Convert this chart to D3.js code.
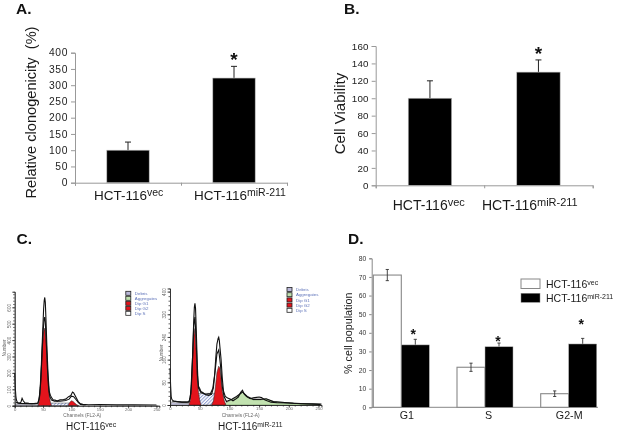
<!DOCTYPE html>
<html><head><meta charset="utf-8">
<script src="https://cdn.jsdelivr.net/npm/d3@7"></script>
<style>html,body{margin:0;padding:0;background:#fff}svg{display:block;filter:blur(.45px)}text{font-family:"Liberation Sans",Arial,sans-serif}</style>
</head><body><svg id="c" width="617" height="434"></svg>
<script>
// ---- data ----
const labelsAB = ["vec","miR-211"];
const aValues = [100,322], aErrors = [25,36];
const aTicks = [0,50,100,150,200,250,300,350,400];
const bValues = [100,130], bErrors = [20,14];
const bTicks = [0,20,40,60,80,100,120,140,160];
const dCats = ["G1","S","G2-M"];
const dVec = [71,21.5,7.3], dVecErr = [3,2.2,1.5];
const dMir = [33.5,32.5,34], dMirErr = [3,2,3];
const dTicks = [0,10,20,30,40,50,60,70,80];
const dStarGap = [5,3.5,10];
const legendNames = ["Debris","Aggregates","Dip G1","Dip G2","Dip S"];
const legendColors = ["#b9b7d8","#bfe0ae","#e3141c","#e3141c","#ffffff"];

const vecDataX = [0,1,2,3,5,8,11,13,15,18,25,35,41,43,45,47,49,51,52,53,54,55,57,59,61,63,65,68,71,75,80,86,90,95,99,102,104,106,109,112,115,120,130,150,180,210,250];
const vecDataY = [200,110,60,35,18,14,22,45,30,18,14,12,15,40,110,250,420,590,640,660,630,540,340,180,85,62,50,35,35,28,36,38,40,55,62,83,78,65,45,25,14,8,6,7,5,5,4];
const vecFitX = [2,10,30,41,44,46,48,50,52,53,54,56,58,60,62,65,70,80,90,96,100,104,108,112,116,125];
const vecFitY = [20,14,12,16,60,150,300,450,530,540,510,370,210,100,55,34,28,28,32,40,58,55,38,20,8,4];
const vecG1X = [41,43,45,47,49,51,53,55,57,59,61,63,65];
const vecG1Y = [0,20,90,220,360,450,473,410,270,140,60,20,0];
const vecG2X = [94,97,100,103,106,109,113];
const vecG2Y = [0,20,30,26,16,7,0];
const vecSX = [46,52,60,80,95,103,110];
const vecSY = [0,12,16,16,16,10,0];
const vecDebrisX = [2,20,44];
const vecDebrisY = [9,8,6];

const mirDataX = [0,1,2,3,6,12,20,28,32,34,36,38,40,41,42,43,44,45,46,47,48,50,52,55,60,65,70,73,75,77,79,81,82,83,84,86,88,90,93,97,102,106,110,115,119,122,125,129,135,140,146,150,154,160,170,180,200,220,240,255];
const mirDataY = [130,70,30,20,14,12,10,10,12,25,70,170,300,345,359,340,280,210,140,90,66,58,48,44,36,34,38,60,100,165,215,235,239,228,205,160,95,50,30,25,20,15,20,28,45,52,38,30,22,25,27,28,26,18,10,8,7,5,4,3];
const mirFitX = [3,20,32,35,38,40,42,44,46,48,52,60,68,72,76,79,82,85,88,91,95,104,112,122,130,140,152,162,174,208,253];
const mirFitY = [14,10,10,40,170,280,310,230,110,60,44,38,40,58,120,180,194,140,65,30,12,20,30,46,30,20,20,22,12,6,2];
const mirG1X = [32,34,36,38,40,42,44,46,48,50,52];
const mirG1Y = [0,15,60,155,240,270,190,90,45,18,0];
const mirG2X = [70,73,76,79,82,84,86,88,91,94];
const mirG2Y = [0,14,55,115,137,130,90,48,18,0];
const mirSX = [39,43,48,60,76,80,85,90];
const mirSY = [0,30,41,41,41,35,16,0];
const mirGreenX = [91,95,104,112,122,130,140,152,162,174,208,253];
const mirGreenY = [0,9,18,27,44,29,18,18,21,12,6,2];
const mirDebrisX = [2,15,33];
const mirDebrisY = [9,7,5];

const svg = d3.select("#c");
const defs = svg.append("defs");
const pat = defs.append("pattern").attr("id","hatch").attr("width",2.4).attr("height",2.4)
  .attr("patternUnits","userSpaceOnUse").attr("patternTransform","rotate(45)");
pat.append("rect").attr("width",2.4).attr("height",2.4).attr("fill","#fff");
pat.append("rect").attr("width",1).attr("height",2.4).attr("fill","#8d9bd0");

function panelLetter(t,x,y){svg.append("text").attr("x",x).attr("y",y).attr("font-size",15.5).attr("font-weight","bold").attr("fill","#111").text(t);}
function hct(x,y,sup,size,supSize,rise){
  const t=svg.append("text").attr("x",x).attr("y",y).attr("font-size",size).attr("fill","#1a1a1a");
  t.append("tspan").text("HCT-116");
  t.append("tspan").attr("dy",-rise).attr("font-size",supSize).text(sup);
}
function rotLabel(t,x,y,size){svg.append("text").attr("transform",`translate(${x},${y}) rotate(-90)`).attr("text-anchor","middle").attr("font-size",size).attr("fill","#1a1a1a").attr("xml:space","preserve").style("white-space","pre").text(t);}
function star(x,y,size){svg.append("text").attr("x",x).attr("y",y).attr("text-anchor","middle").attr("font-size",size).attr("font-weight","bold").attr("fill","#111").text("*");}

function simpleBars(o){
  const g=svg.append("g");
  const x=d3.scaleBand().domain(labelsAB).range([o.x0,o.x1]).paddingInner(o.pad).paddingOuter(o.pad/2);
  const y=d3.scaleLinear().domain([0,o.max]).range([o.y0,o.y1]);
  const ya=g.append("g").attr("transform",`translate(${o.x0},0)`).call(d3.axisLeft(y).tickValues(o.ticks).tickSize(4).tickPadding(3));
  const xa=g.append("g").attr("transform",`translate(0,${o.y0})`).call(d3.axisBottom(d3.scalePoint().domain([0,1,2]).range([o.x0,o.x1])).tickSize(3).tickFormat(""));
  [ya,xa].forEach(a=>{a.selectAll("path,line").attr("stroke","#999").attr("stroke-width",1);});
  ya.selectAll("text").attr("font-size",o.tick).attr("font-family","Liberation Sans").attr("fill","#222").style("letter-spacing",o.ls+"px");
  g.selectAll(".err").data(labelsAB).enter().append("path").attr("fill","none").attr("stroke","#222").attr("stroke-width",1)
    .attr("d",(d,i)=>{const c=x(d)+x.bandwidth()/2,t=y(o.v[i]+o.e[i]);return `M${c},${y(o.v[i])}V${t}M${c-3},${t}H${c+3}`;});
  g.selectAll(".bar").data(labelsAB).enter().append("rect").attr("x",d=>x(d)).attr("width",x.bandwidth())
    .attr("y",(d,i)=>y(o.v[i])).attr("height",(d,i)=>o.y0-y(o.v[i])).attr("fill","#000").attr("stroke","#bbb").attr("stroke-width",.6);
  return {x,y};
}
// Panel A
panelLetter("A.",16,14);
const A=simpleBars({x0:75,x1:287,y0:182.7,y1:52.7,max:400,pad:.6,ticks:aTicks,v:aValues,e:aErrors,tick:10.3,ls:.6});
rotLabel("Relative clonogenicity  (%)",36,112.5,14.6);
star(A.x("miR-211")+A.x.bandwidth()/2,A.y(aValues[1]+aErrors[1]),19);
hct(94,200,"vec",13.5,10.5,4);
hct(194,200,"miR-211",13.5,10.5,4);
// Panel B
panelLetter("B.",344,14);
const B=simpleBars({x0:375.7,x1:592.7,y0:185.3,y1:46,max:160,pad:.6,ticks:bTicks,v:bValues,e:bErrors,tick:9.8,ls:.2});
rotLabel("Cell Viability",345,113.5,15);
star(B.x("miR-211")+B.x.bandwidth()/2,B.y(bValues[1]+bErrors[1]),19);
hct(392.7,210,"vec",14,11,4);
hct(482,210,"miR-211",14,11,4);

// Panel C
panelLetter("C.",16.5,244);panelLetter("D.",348,244);
function hist(o){
  const g=svg.append("g");
  const x=d3.scaleLinear().domain([0,255]).range([o.x0,o.x0+255*o.kx]);
  const y=d3.scaleLinear().domain([0,o.ymax]).range([o.y0,o.y0-o.ymax*o.ky]);
  const area=(xs,ys,fill,st)=>g.append("path").datum(xs.map((d,i)=>[d,ys[i]]))
     .attr("d",d3.area().x(d=>x(d[0])).y0(o.y0).y1(d=>y(d[1]))).attr("fill",fill).attr("stroke",st||"#222").attr("stroke-width",.5);
  area(o.debris[0],o.debris[1],"#c4c2dd","#666");
  if(o.green) area(o.green[0],o.green[1],"#c2e2b0","#5a7a50");
  area(o.s[0],o.s[1],"url(#hatch)","#444");
  area(o.g1[0],o.g1[1],"#e3141c");
  area(o.g2[0],o.g2[1],"#e3141c");
  const ln=d3.line().x(d=>x(d[0])).y(d=>y(d[1]));
  g.append("path").datum(o.fit[0].map((d,i)=>[d,o.fit[1][i]])).attr("d",ln).attr("fill","none").attr("stroke","#111").attr("stroke-width",1.1);
  g.append("path").datum(o.data[0].map((d,i)=>[d,o.data[1][i]])).attr("d",ln).attr("fill","none").attr("stroke","#111").attr("stroke-width",1.1);
  const ya=g.append("g").attr("transform",`translate(${o.x0},0)`).call(d3.axisLeft(y).tickValues(o.yt).tickSize(2.5).tickPadding(1));
  const ym=g.append("g").attr("transform",`translate(${o.x0},0)`).call(d3.axisLeft(y).tickValues(o.ym).tickSize(1.5).tickFormat(""));
  const xa=g.append("g").attr("transform",`translate(0,${o.y0})`).call(d3.axisBottom(x).tickValues(o.xt).tickSize(2.5).tickPadding(0));
  const xm=g.append("g").attr("transform",`translate(0,${o.y0})`).call(d3.axisBottom(x).tickValues(o.xm).tickSize(1.5).tickFormat(""));
  [ya,ym,xa,xm].forEach(a=>a.selectAll("path,line").attr("stroke","#222").attr("stroke-width",.7));
  ya.selectAll("text").attr("transform","rotate(-90)").attr("x",0).attr("y",-4).attr("dy",0).attr("text-anchor","middle").attr("font-size",4.6).attr("font-family","Liberation Sans").attr("fill","#666");
  xa.selectAll("text").attr("font-size",4.2).attr("font-family","Liberation Sans").attr("fill","#666");
  svg.append("text").attr("transform",`translate(${o.titleX},${o.titleY}) rotate(-90)`).attr("text-anchor","middle").attr("font-size",4.8).attr("fill","#666").text("Number");
  svg.append("text").attr("x",o.chanX).attr("y",417.3).attr("text-anchor","middle").attr("font-size",4.8).attr("fill","#666").text("Channels (FL2-A)");
  const rowY=d3.scalePoint().domain(legendNames).range([o.ly0,o.ly0+o.lstep*4]);
  legendNames.forEach((n,i)=>{
    svg.append("rect").attr("x",o.lx).attr("y",rowY(n)-2).attr("width",5).attr("height",4).attr("fill",legendColors[i]).attr("stroke","#222").attr("stroke-width",.8);
    svg.append("text").attr("x",o.lx+9).attr("y",rowY(n)+1.6).attr("font-size",4.4).attr("fill","#5b70b8").text(n);
  });
}
const seq=(a,b,s)=>d3.range(a,b+.001,s);
hist({x0:14.7,kx:.567,y0:405.7,ky:.164,ymax:695,yt:seq(0,600,100),ym:seq(0,695,20),xt:seq(0,250,50),xm:seq(0,255,10),
 data:[vecDataX,vecDataY],fit:[vecFitX,vecFitY],g1:[vecG1X,vecG1Y],g2:[vecG2X,vecG2Y],s:[vecSX,vecSY],debris:[vecDebrisX,vecDebrisY],
 titleX:6,titleY:348,chanX:82.3,lx:125.8,ly0:293.3,lstep:5});
hist({x0:170,kx:.594,y0:405,ky:.2835,ymax:411,yt:seq(0,400,80),ym:seq(0,400,16),xt:seq(0,250,50),xm:seq(0,255,10),
 data:[mirDataX,mirDataY],fit:[mirFitX,mirFitY],g1:[mirG1X,mirG1Y],g2:[mirG2X,mirG2Y],s:[mirSX,mirSY],green:[mirGreenX,mirGreenY],debris:[mirDebrisX,mirDebrisY],
 titleX:162.5,titleY:353,chanX:240.7,lx:287,ly0:289.5,lstep:5.2});
hct(66,429.5,"vec",10,7,3);
hct(218,429.5,"miR-211",10,6.8,3);

// Panel D
(function(){
  const x0=371.7,x1=598,y0=407.3,y1=258.3;
  const x=d3.scalePoint().domain(dCats).range([401.3,568.7]);
  const w=28;
  const y=d3.scaleLinear().domain([0,80]).range([y0,y1]);
  const g=svg.append("g");
  const ya=g.append("g").attr("transform",`translate(${x0},0)`).call(d3.axisLeft(y).tickValues(dTicks).tickSize(2.5).tickPadding(3));
  ya.selectAll("path,line").attr("stroke","#888");
  ya.selectAll("text").attr("font-size",6.8).attr("font-family","Liberation Sans").attr("fill","#333");
  const xa=g.append("g").attr("transform",`translate(0,${y0})`).call(d3.axisBottom(x).tickSize(0).tickPadding(4));
  xa.select("path").attr("d",`M${x0},0H${x1}`).attr("stroke","#888");
  xa.selectAll("text").attr("font-size",10.7).attr("font-family","Liberation Sans").attr("fill","#1a1a1a").attr("dx",d=>d==="G1"?5:d==="S"?3:0);
  const errs=(vals,es,off,both)=>g.append("g").selectAll("path").data(dCats).enter().append("path").attr("fill","none").attr("stroke","#333").attr("stroke-width",.9)
    .attr("d",(d,i)=>{const c=x(d)+off,t=y(vals[i]+es[i]),b=y(vals[i]-(both?es[i]:0));return `M${c},${b}V${t}M${c-1.6},${t}H${c+1.6}`+(both?`M${c-1.6},${b}H${c+1.6}`:"");});
  g.append("g").selectAll("rect").data(dCats).enter().append("rect").attr("x",d=>x(d)-w).attr("width",w)
    .attr("y",(d,i)=>y(dVec[i])).attr("height",(d,i)=>y0-y(dVec[i])).attr("fill","#fff").attr("stroke","#888").attr("stroke-width",1.1);
  errs(dVec,dVecErr,-w/2,true);
  errs(dMir,dMirErr,w/2,false);
  g.append("g").selectAll("rect").data(dCats).enter().append("rect").attr("x",d=>x(d)).attr("width",w)
    .attr("y",(d,i)=>y(dMir[i])).attr("height",(d,i)=>y0-y(dMir[i])).attr("fill","#000").attr("stroke","#aaa").attr("stroke-width",.5);
  dCats.forEach((d,i)=>star(x(d)+w/2-(i==0?2:i==1?1:1.5),y(dMir[i]+dMirErr[i]+dStarGap[i]-4)+2,14));
  rotLabel("% cell population",351.5,333.3,10.8);
  svg.append("rect").attr("x",521).attr("y",279).attr("width",19).attr("height",9.5).attr("fill","#fff").attr("stroke","#888");
  svg.append("rect").attr("x",521).attr("y",293.3).attr("width",19).attr("height",9).attr("fill","#000").attr("stroke","#888").attr("stroke-width",.5);
  hct(546,288.3,"vec",10.5,7,3);
  hct(546,301.7,"miR-211",10.5,7,3);
})();
</script></body></html>
